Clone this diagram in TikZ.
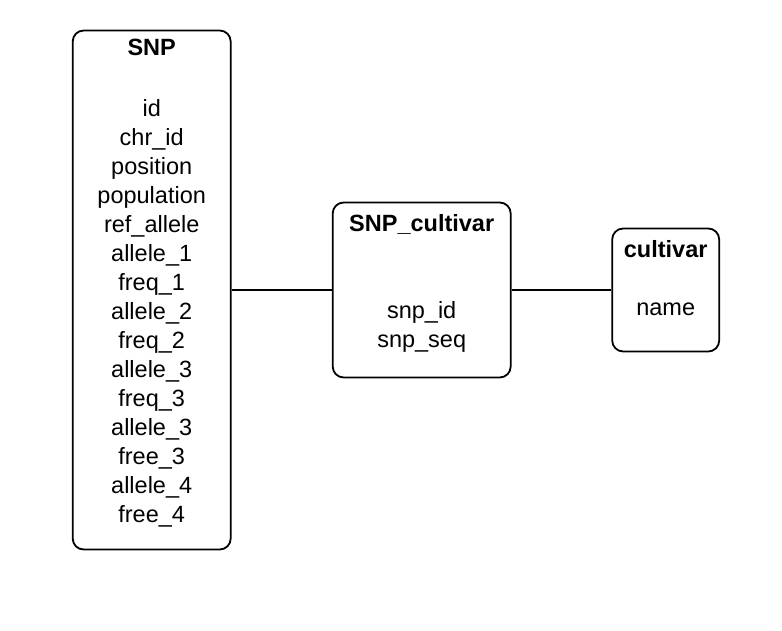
\documentclass[tikz,border=0pt]{standalone}
\usepackage{fontspec}
\setmainfont{Liberation Sans}
\begin{document}
\begin{tikzpicture}[x=1pt,y=-1pt,
  box/.style={draw=black,line width=1.8pt,rounded corners=11pt,inner sep=0pt},
  lbl/.style={anchor=base,inner sep=0pt,font=\fontsize{23.5}{28}\selectfont},
  ttl/.style={lbl,font=\fontsize{23.5}{28}\selectfont\bfseries},
  conn/.style={line width=1.8pt}]
\useasboundingbox (0,0) rectangle (782,631);
% boxes
\node[box,minimum width=158pt,minimum height=519pt] (snp) at (151.7,290) {};
\node[box,minimum width=178pt,minimum height=175pt] (snpc) at (421.7,290) {};
\node[box,minimum width=107pt,minimum height=123pt] (cult) at (665.7,290) {};
% SNP texts
\node[ttl] (t1) at (151.7,56) {SNP};
\foreach \txt [count=\i from 0] in {id,chr\_id,position,population,ref\_allele,allele\_1,freq\_1,allele\_2,freq\_2,allele\_3,freq\_3,allele\_3,free\_3,allele\_4,free\_4}
  \node[lbl] (s\i) at (151.7,116.7+29*\i) {\txt};
% SNP_cultivar texts
\node[ttl] (t2) at (421.7,231.7) {SNP\_cultivar};
\node[lbl] (c1) at (421.7,318.3) {snp\_id};
\node[lbl] (c2) at (421.7,347.3) {snp\_seq};
% cultivar texts
\node[ttl] (t3) at (665.7,257.7) {cultivar};
\node[lbl] (n1) at (665.7,315.7) {name};
% connectors
\draw[conn] (snp.east) -- (snpc.west);
\draw[conn] (snpc.east) -- (cult.west);
\end{tikzpicture}
\end{document}
